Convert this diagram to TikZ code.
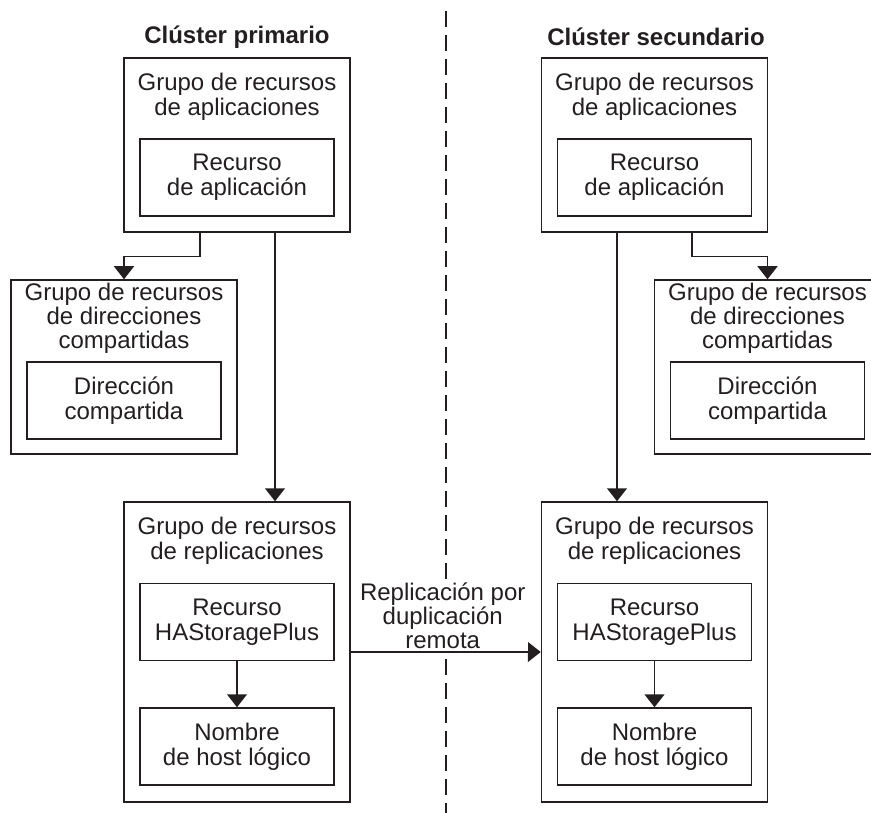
\documentclass[tikz,border=0pt]{standalone}
\usepackage{fontspec}
\setmainfont{Liberation Sans}
\usetikzlibrary{arrows.meta}
\definecolor{ink}{RGB}{35,31,32}
\tikzset{
  group/.style={draw=ink, line width=1.5pt, minimum width=226pt, inner sep=0pt},
  item/.style={draw=ink, line width=1.5pt, minimum width=194pt, minimum height=77pt, align=center, inner sep=0pt, text=ink},
  caption/.style={align=center, inner sep=0pt, text=ink},
  heading/.style={caption, font=\fontsize{24}{25}\selectfont\bfseries},
  link/.style={draw=ink, line width=1.5pt, -{Triangle[width=20pt,length=13pt]}},
}

\begin{document}
\begin{tikzpicture}[x=1pt,y=-1pt,font=\fontsize{24}{25}\selectfont]
\useasboundingbox (0,0) rectangle (871,813);
\clip (0,0) rectangle (871,813);

% dividing line
\coordinate (divtop) at (446,11);
\coordinate (divbot) at (446,830);
\draw[ink, line width=1.3pt, dash pattern=on 16pt off 8pt] (divtop) -- (divbot);

% primary cluster
\node[heading] (primtitle) at (237,37) {Clúster primario};
\node[group, minimum height=174pt] (appP) at (237,145) {};
\node[caption] (appPtxt) at (237,97) {Grupo de recursos\\de aplicaciones};
\node[item] (resP) at (237,177.5) {Recurso\\de aplicación};

\node[group, minimum height=174pt] (shP) at (124,367) {};
\node[caption, font=\fontsize{24}{24}\selectfont] (shPtxt) at (124,318) {Grupo de recursos\\de direcciones\\compartidas};
\node[item] (addrP) at (124,400.5) {Dirección\\compartida};

\node[group, minimum height=300pt] (repP) at (237,652) {};
\node[caption] (repPtxt) at (237,541) {Grupo de recursos\\de replicaciones};
\node[item] (hasP) at (237,622) {Recurso\\HAStoragePlus};
\node[item] (hostP) at (237,746.5) {Nombre\\de host lógico};

% secondary cluster
\node[heading] (sectitle) at (656,37) {Clúster secundario};
\node[group, minimum height=174pt] (appS) at (654.5,145) {};
\node[caption] (appStxt) at (654.5,97) {Grupo de recursos\\de aplicaciones};
\node[item] (resS) at (654.5,177.5) {Recurso\\de aplicación};

\node[group, minimum height=174pt] (shS) at (767.5,367) {};
\node[caption, font=\fontsize{24}{24}\selectfont] (shStxt) at (767.5,318) {Grupo de recursos\\de direcciones\\compartidas};
\node[item] (addrS) at (767.5,400.5) {Dirección\\compartida};

\node[group, minimum height=300pt] (repS) at (654.5,652) {};
\node[caption] (repStxt) at (654.5,541) {Grupo de recursos\\de replicaciones};
\node[item] (hasS) at (654.5,622) {Recurso\\HAStoragePlus};
\node[item] (hostS) at (654.5,746.5) {Nombre\\de host lógico};

% connectors
\draw[link] ([xshift=-37pt]appP.south) -- ++(0,24) -| (shP.north);
\draw[link] ([xshift=38pt]appP.south) -- ([xshift=38pt]repP.north);
\draw[link] (hasP) -- (hostP);

\draw[link] ([xshift=37.5pt]appS.south) -- ++(0,24) -| (shS.north);
\draw[link] ([xshift=-37.5pt]appS.south) -- ([xshift=-37.5pt]repS.north);
\draw[link] (hasS) -- (hostS);

\draw[link] (repP) -- node[caption, above=0pt, xshift=-3pt, fill=white, inner sep=2.5pt, font=\fontsize{24}{24}\selectfont] (repllabel) {Replicación por\\duplicación\\remota} (repS);
\end{tikzpicture}
\end{document}
